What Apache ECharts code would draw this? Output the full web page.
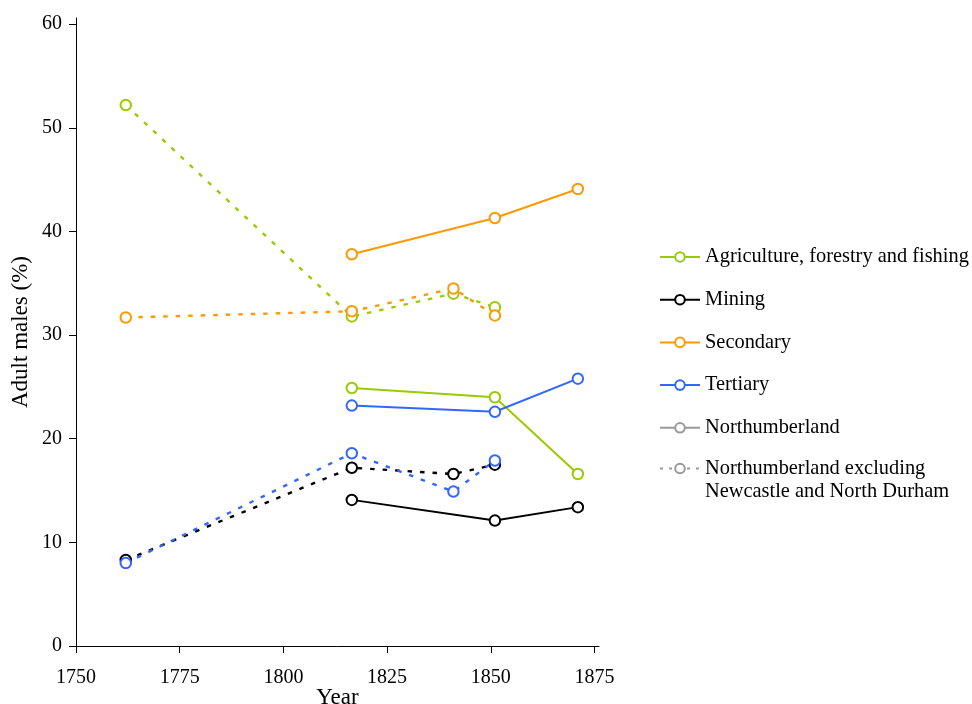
<!DOCTYPE html>
<html>
<head>
<meta charset="utf-8">
<script src="https://cdn.jsdelivr.net/npm/echarts@6/dist/echarts.min.js"></script>
<style>
  html, body { margin: 0; padding: 0; background: #fff; }
  #chart { width: 972px; height: 704px; }
</style>
</head>
<body>
<div id="chart"></div>
<script>
// Survey years: Northumberland (solid) and Northumberland excl. Newcastle & North Durham (dashed)
const yearsNorthumberland = [1816.5, 1851, 1871];
const yearsExcluding = [1762, 1816.5, 1841, 1851];

// Share of adult males by sector (%), Northumberland
const agricultureN = [24.9, 24.0, 16.6];
const miningN = [14.1, 12.1, 13.4];
const secondaryN = [37.8, 41.3, 44.1];
const tertiaryN = [23.2, 22.6, 25.8];

// Share of adult males by sector (%), excluding Newcastle and North Durham
const agricultureX = [52.2, 31.8, 34.0, 32.7];
const miningX = [8.3, 17.2, 16.6, 17.5];
const secondaryX = [31.7, 32.3, 34.5, 31.9];
const tertiaryX = [8.0, 18.6, 14.9, 17.9];

const sectorNames = ['Agriculture, forestry and fishing', 'Mining', 'Secondary', 'Tertiary'];
const sectorColors = ['#99CC00', '#000000', '#FF9900', '#3366FF'];
const areaNames = ['Northumberland', 'Northumberland excluding\nNewcastle and North Durham'];
const xTicks = [1750, 1775, 1800, 1825, 1850, 1875];
const yTicks = [0, 10, 20, 30, 40, 50, 60];

const FONT = '"Liberation Serif", "Times New Roman", serif';

function pairs(xs, ys) { return xs.map((x, i) => [x, ys[i]]); }

const solidSets = [agricultureN, miningN, secondaryN, tertiaryN];
const dashedSets = [agricultureX, miningX, secondaryX, tertiaryX];

function markerStyle(c) {
  return { color: c, borderColor: c, borderWidth: 1 };
}

const series = [];
dashedSets.forEach((vals, i) => {
  series.push({
    name: sectorNames[i] + ' (excl.)',
    type: 'line',
    data: pairs(yearsExcluding, vals),
    symbol: 'emptyCircle',
    symbolSize: 10.5,
    itemStyle: markerStyle(sectorColors[i]),
    lineStyle: { color: sectorColors[i], width: 2.4, type: [4.5, 8] },
    z: 2
  });
});
solidSets.forEach((vals, i) => {
  series.push({
    name: sectorNames[i],
    type: 'line',
    data: pairs(yearsNorthumberland, vals),
    symbol: 'emptyCircle',
    symbolSize: 10.5,
    itemStyle: markerStyle(sectorColors[i]),
    lineStyle: { color: sectorColors[i], width: 2 },
    z: 3
  });
});
// Key-only entries for the two areas
series.push({
  name: areaNames[0], type: 'line', data: [], symbol: 'emptyCircle',
  itemStyle: markerStyle('#999999'),
  lineStyle: { color: '#999999', width: 2 }
});
series.push({
  name: areaNames[1], type: 'line', data: [], symbol: 'emptyCircle',
  itemStyle: markerStyle('#999999'),
  lineStyle: { color: '#999999', width: 2, type: [3, 6] }
});

const legendText = { fontFamily: FONT, fontSize: 20.4, color: '#000' };

const chart = echarts.init(document.getElementById('chart'), null, { renderer: 'canvas' });
chart.setOption({
  animation: false,
  backgroundColor: '#ffffff',
  textStyle: { fontFamily: FONT },
  grid: { left: 76, right: 373, top: 18, bottom: 58, containLabel: false, outerBoundsMode: 'none' },
  legend: [
    {
      data: sectorNames.concat([areaNames[0]]),
      orient: 'vertical',
      left: 654,
      top: 242,
      itemWidth: 40,
      itemHeight: 12,
      itemGap: 22.7,
      selectedMode: false,
      textStyle: legendText
    },
    {
      data: [areaNames[1]],
      orient: 'vertical',
      left: 654,
      top: 429,
      itemWidth: 40,
      itemHeight: 12,
      selectedMode: false,
      // leading blank line keeps the key mark level with the first text line
      formatter: name => '\n' + name,
      textStyle: Object.assign({ lineHeight: 23 }, legendText)
    }
  ],
  xAxis: {
    type: 'value',
    min: 1750,
    max: 1876.1,
    interval: 25,
    name: 'Year',
    nameLocation: 'middle',
    nameGap: 40,
    nameMoveOverlap: false,
    nameTextStyle: { fontFamily: FONT, fontSize: 23, color: '#000' },
    axisLine: { show: true, onZero: false, lineStyle: { color: '#000', width: 1 } },
    axisTick: { show: true, length: 7, customValues: xTicks, lineStyle: { color: '#000' } },
    axisLabel: {
      customValues: xTicks, margin: 22, fontFamily: FONT, fontSize: 20, color: '#000',
      formatter: v => (v % 25 === 0 ? String(v) : '')
    },
    splitLine: { show: false }
  },
  yAxis: {
    type: 'value',
    min: 0,
    max: 60.6,
    interval: 10,
    name: 'Adult males (%)',
    nameLocation: 'middle',
    nameRotate: 90,
    nameGap: 44,
    nameMoveOverlap: false,
    nameTextStyle: { fontFamily: FONT, fontSize: 23, color: '#000' },
    axisLine: { show: true, lineStyle: { color: '#000', width: 1 } },
    axisTick: { show: true, length: 7, customValues: yTicks, lineStyle: { color: '#000' } },
    axisLabel: {
      customValues: yTicks, margin: 14, fontFamily: FONT, fontSize: 20, color: '#000',
      formatter: v => (v % 10 === 0 ? String(v) : '')
    },
    splitLine: { show: false }
  },
  series: series
});
</script>
</body>
</html>
